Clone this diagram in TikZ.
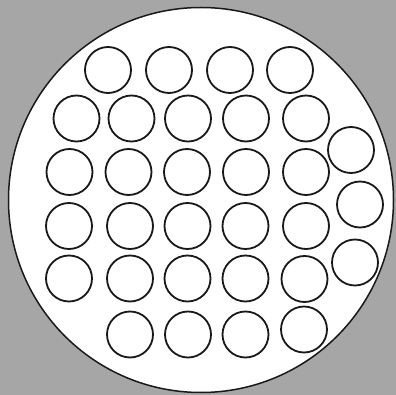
\documentclass[tikz,border=0pt]{standalone}
\definecolor{bggray}{RGB}{166,166,166}
\tikzset{
  hole/.style={circle, draw=black!90, line width=1.8pt, fill=white, minimum size=46pt, inner sep=0pt},
  plate/.style={circle, draw=black!90, line width=1.5pt, fill=white, minimum size=385pt, inner sep=0pt}
}
\begin{document}
\begin{tikzpicture}[x=1pt,y=-1pt]
\fill[bggray] (0,0) rectangle (396,395);
\useasboundingbox (0,0) rectangle (396,395);
\node[plate] (plate) at (201,200) {};
% row 1
\node[hole] (r1a) at (108,70) {};
\node[hole] (r1b) at (169,70) {};
\node[hole] (r1c) at (230,70) {};
\node[hole] (r1d) at (290,70) {};
% row 2
\node[hole] (r2a) at (76.5,118.5) {};
\node[hole] (r2b) at (131.5,118.5) {};
\node[hole] (r2c) at (188,118.5) {};
\node[hole] (r2d) at (246,118.5) {};
\node[hole] (r2e) at (306,118.5) {};
% row 3
\node[hole] (r3a) at (69.5,172) {};
\node[hole] (r3b) at (128.5,172) {};
\node[hole] (r3c) at (187,172) {};
\node[hole] (r3d) at (246,172) {};
\node[hole] (r3e) at (306,172) {};
% row 4
\node[hole] (r4a) at (69,226) {};
\node[hole] (r4b) at (130,226) {};
\node[hole] (r4c) at (187.5,226) {};
\node[hole] (r4d) at (245.5,226) {};
\node[hole] (r4e) at (306,226) {};
% row 5
\node[hole] (r5a) at (69,278.5) {};
\node[hole] (r5b) at (130,278.5) {};
\node[hole] (r5c) at (187.5,278.5) {};
\node[hole] (r5d) at (245.5,278.5) {};
\node[hole] (r5e) at (304.5,279) {};
% row 6
\node[hole] (r6a) at (130,334.5) {};
\node[hole] (r6b) at (188,334.5) {};
\node[hole] (r6c) at (245.5,334.5) {};
\node[hole] (r6d) at (304,329.5) {};
% right column
\node[hole] (ra) at (351,150) {};
\node[hole] (rb) at (360,204.5) {};
\node[hole] (rc) at (355,262.5) {};
\end{tikzpicture}
\end{document}
